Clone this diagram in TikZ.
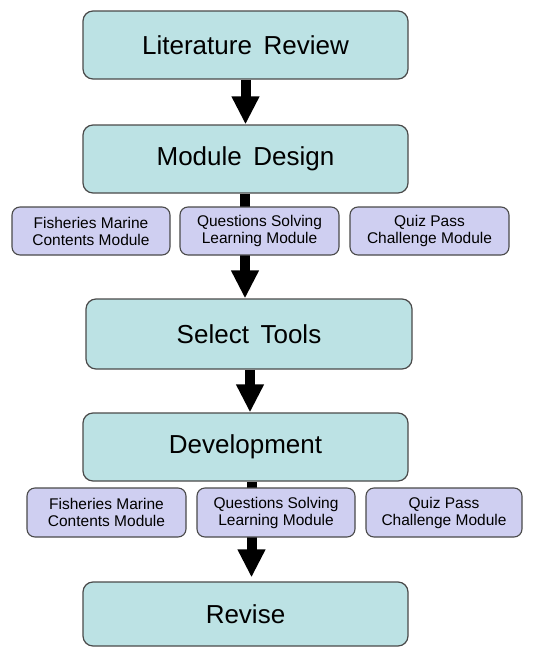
\documentclass[tikz,border=0pt]{standalone}
\usepackage{fontspec}
\setmainfont{Liberation Sans}
\usetikzlibrary{arrows.meta,calc}
\pgfdeclarelayer{bg}
\pgfsetlayers{bg,main}
\definecolor{tealbox}{HTML}{BCE2E4}
\definecolor{lavbox}{HTML}{CFCFF1}
\definecolor{edge}{HTML}{4A4A4A}
\tikzset{
  mainbox/.style={draw=edge, line width=1.2pt, fill=tealbox, rounded corners=10pt,
    minimum width=325pt, minimum height=68pt, inner sep=0pt,
    font=\fontsize{26}{30}\selectfont},
  subbox/.style={draw=edge, line width=1.1pt, fill=lavbox, rounded corners=8pt,
    minimum width=158pt, minimum height=48pt, inner sep=0pt, align=center,
    font=\fontsize{15.5}{17}\selectfont},
  flow/.style={line width=10pt, -{Triangle[width=26pt,length=28pt]}, black}
}
\begin{document}
\begin{tikzpicture}[x=1pt,y=-1pt]
\useasboundingbox (0,0) rectangle (553,648);
\node[mainbox] (lit) at (245.5,45) {Literature\, Review};
\node[mainbox] (mod) at (245.5,159) {Module\, Design};
\node[subbox] (a1) at (91,231) {Fisheries Marine\\Contents Module};
\node[subbox, minimum width=159pt] (b1) at (259.5,231) {Questions Solving\\Learning Module};
\node[subbox, minimum width=159pt] (c1) at (429.5,231) {Quiz Pass\\Challenge Module};
\node[mainbox, minimum width=326pt, minimum height=70pt] (sel) at (249,334) {Select\, Tools};
\node[mainbox] (dev) at (245.5,447) {Development};
\node[subbox, minimum width=159pt, minimum height=49pt] (a2) at (106.5,512.5) {Fisheries Marine\\Contents Module};
\node[subbox, minimum height=49pt] (b2) at (276,512.5) {Questions Solving\\Learning Module};
\node[subbox, minimum width=156pt, minimum height=49pt] (c2) at (444,512.5) {Quiz Pass\\Challenge Module};
\node[mainbox, minimum height=64pt] (rev) at (245.5,614) {Revise};
\begin{pgfonlayer}{bg}
\fill[white] (0,0) rectangle (553,648);
\draw[flow] (lit.south) -- (mod.north);
\draw[flow] ([xshift=-0.5pt]mod.south) -- ([xshift=-0.5pt]mod.south |- sel.north);
\draw[flow] ([xshift=1pt]sel.south) -- ([xshift=1pt]sel.south |- dev.north);
\draw[flow, shorten >=4pt] ([xshift=6pt]dev.south) -- ([xshift=6pt]dev.south |- rev.north);
\end{pgfonlayer}
\end{tikzpicture}
\end{document}
